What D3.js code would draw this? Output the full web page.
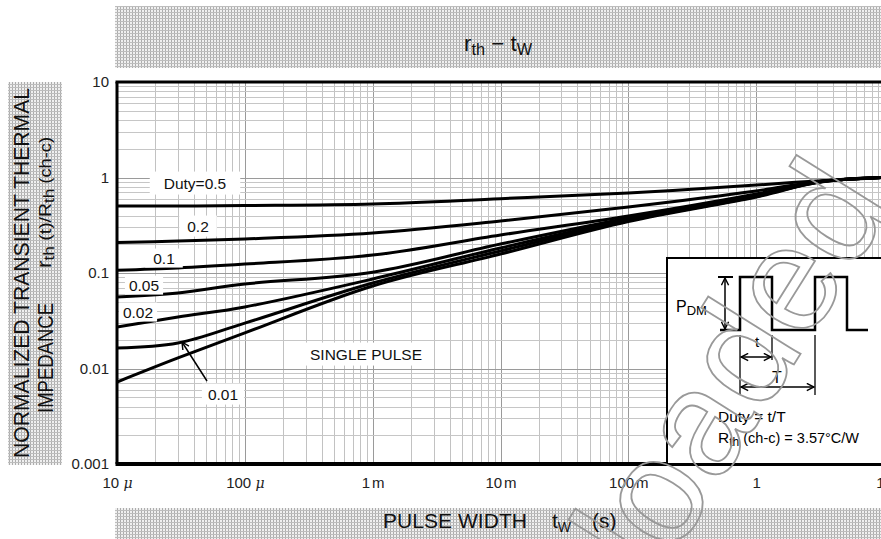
<!DOCTYPE html>
<html>
<head>
<meta charset="utf-8">
<script src="https://cdn.jsdelivr.net/npm/d3@7/dist/d3.min.js"></script>
<style>
  body { margin: 0; background: #fff; overflow: hidden; }
  svg { display: block; font-family: "Liberation Sans", Arial, sans-serif; }
</style>
</head>
<body>
<div id="chart"></div>
<script>
// Define SVG area dimensions
var svgWidth = 881;
var svgHeight = 539;

// Plot area (right side runs past the window edge, like the scan)
var plot = { left: 117, right: 884, top: 82, bottom: 464 };

// pulse width samples (s) and normalized rth for each duty
var pulseWidth = [1e-5, 3e-5, 1e-4, 1e-3, 1e-2, 1e-1, 1, 3, 10];
var duty05 = [0.503, 0.503, 0.509, 0.528, 0.600, 0.688, 0.834, 0.920, 1.0];
var duty02 = [0.209, 0.216, 0.227, 0.262, 0.350, 0.491, 0.722, 0.905, 1.0];
var duty01 = [0.107, 0.113, 0.124, 0.154, 0.250, 0.395, 0.672, 0.900, 1.0];
var duty005 = [0.0561, 0.0618, 0.0767, 0.102, 0.201, 0.377, 0.656, 0.895, 1.0];
var duty002 = [0.0272, 0.0346, 0.0441, 0.0865, 0.183, 0.363, 0.640, 0.890, 1.0];
var duty001 = [0.0164, 0.0185, 0.0299, 0.0785, 0.170, 0.354, 0.632, 0.888, 1.0];
var singlePulse = [0.00722, 0.0129, 0.0236, 0.0731, 0.158, 0.346, 0.625, 0.885, 1.0];

var seriesList = [duty05, duty02, duty01, duty005, duty002, duty001, singlePulse];

// tick labels
var xTickValues = [1e-5, 1e-4, 1e-3, 1e-2, 1e-1, 1, 10];
var xTickNumbers = ["10", "100", "1", "10", "100", "1", "10"];
var xTickUnits = ["\u03bc", "\u03bc", "m", "m", "m", "", ""];
var yTickValues = [0.001, 0.01, 0.1, 1, 10];
var yTickLabels = ["0.001", "0.01", "0.1", "1", "10"];

var svg = d3.select("#chart")
  .append("svg")
  .attr("width", svgWidth)
  .attr("height", svgHeight);

// hatch pattern for the grey title banners
var defs = svg.append("defs");
var pat = defs.append("pattern")
  .attr("id", "hatch")
  .attr("patternUnits", "userSpaceOnUse")
  .attr("width", 3).attr("height", 3);
pat.append("rect").attr("width", 3).attr("height", 3).attr("fill", "#f0f0f0");
pat.append("rect").attr("width", 1).attr("height", 3).attr("fill", "#adadad");
pat.append("rect").attr("width", 3).attr("height", 1).attr("fill", "#bdbdbd");

defs.append("marker")
  .attr("id", "head")
  .attr("viewBox", "0 0 10 10")
  .attr("refX", 9).attr("refY", 5)
  .attr("markerWidth", 9).attr("markerHeight", 9)
  .attr("markerUnits", "userSpaceOnUse")
  .attr("orient", "auto-start-reverse")
  .append("path")
  .attr("d", "M1,1 L9,5 L1,9")
  .attr("fill", "none")
  .attr("stroke", "#000")
  .attr("stroke-width", 1.6);

// scales
var xScale = d3.scaleLog().domain([1e-5, 10]).range([plot.left, plot.right]);
var yScale = d3.scaleLog().domain([0.001, 10]).range([plot.bottom, plot.top]);

// banners
svg.append("rect").attr("x", 115).attr("y", 6).attr("width", 766).attr("height", 62).attr("fill", "url(#hatch)");
svg.append("rect").attr("x", 115).attr("y", 508).attr("width", 766).attr("height", 31).attr("fill", "url(#hatch)");
svg.append("rect").attr("x", 8).attr("y", 82).attr("width", 54).attr("height", 383).attr("fill", "url(#hatch)");

// title  r_th - t_w
var title = svg.append("text")
  .attr("x", 498).attr("y", 51)
  .attr("text-anchor", "middle")
  .attr("font-size", 22)
  .attr("textLength", 68)
  .attr("lengthAdjust", "spacingAndGlyphs")
  .attr("fill", "#111");
title.append("tspan").text("r");
title.append("tspan").attr("font-size", 16).attr("dy", 4).text("th");
title.append("tspan").attr("dy", -4).text(" \u2212 t");
title.append("tspan").attr("font-size", 16).attr("dy", 4).text("W");

// x axis title
var xt = svg.append("text").attr("y", 528).attr("font-size", 21).attr("fill", "#111");
xt.append("tspan").attr("x", 383).attr("textLength", 144).text("PULSE WIDTH");
xt.append("tspan").attr("x", 552).text("t");
xt.append("tspan").attr("font-size", 14).attr("dy", 4).text("W");
xt.append("tspan").attr("x", 592).attr("dy", -4).text("(s)");

// y axis title (two rotated lines)
svg.append("text")
  .attr("transform", "translate(29,273) rotate(-90)")
  .attr("text-anchor", "middle")
  .attr("font-size", 22)
  .attr("textLength", 370)
  .attr("lengthAdjust", "spacingAndGlyphs")
  .attr("fill", "#111")
  .text("NORMALIZED TRANSIENT THERMAL");
svg.append("text")
  .attr("transform", "translate(53,413) rotate(-90)")
  .attr("font-size", 22)
  .attr("textLength", 110)
  .attr("lengthAdjust", "spacingAndGlyphs")
  .attr("fill", "#111")
  .text("IMPEDANCE");
var yl = svg.append("text")
  .attr("transform", "translate(51,268) rotate(-90)")
  .attr("font-size", 20)
  .attr("textLength", 131)
  .attr("lengthAdjust", "spacingAndGlyphs")
  .attr("fill", "#111");
yl.append("tspan").text("r");
yl.append("tspan").attr("font-size", 15).attr("dy", 3).text("th");
yl.append("tspan").attr("font-size", 17).attr("dy", -3).text(" (t)/R");
yl.append("tspan").attr("font-size", 15).attr("dy", 3).text("th");
yl.append("tspan").attr("font-size", 16).attr("dy", -3).text(" (ch-c)");

// clip for the plot area
defs.append("clipPath").attr("id", "plotClip")
  .append("rect")
  .attr("x", plot.left).attr("y", plot.top)
  .attr("width", plot.right - plot.left).attr("height", plot.bottom - plot.top);

var chartGroup = svg.append("g").attr("clip-path", "url(#plotClip)");

// grid
var isDecade = function(v) { return Math.abs(Math.log10(v) - Math.round(Math.log10(v))) < 1e-6; };
chartGroup.append("g").selectAll("line")
  .data(xScale.ticks())
  .enter().append("line")
  .attr("x1", d => Math.round(xScale(d)) + 0.5).attr("x2", d => Math.round(xScale(d)) + 0.5)
  .attr("y1", plot.top).attr("y2", plot.bottom)
  .attr("stroke", d => isDecade(d) ? "#9a9a9a" : "#c2c2c2")
  .attr("stroke-width", 1);
chartGroup.append("g").selectAll("line")
  .data(yScale.ticks())
  .enter().append("line")
  .attr("y1", d => Math.round(yScale(d)) + 0.5).attr("y2", d => Math.round(yScale(d)) + 0.5)
  .attr("x1", plot.left).attr("x2", plot.right)
  .attr("stroke", d => isDecade(d) ? "#9a9a9a" : "#c6c6c6")
  .attr("stroke-width", 1);

// labels with white boxes behind
function boxLabel(txt, cx, cy, padX, padY) {
  var g = svg.append("g");
  var t = g.append("text")
    .attr("x", cx).attr("y", cy).attr("dy", "0.36em")
    .attr("text-anchor", "middle")
    .attr("font-size", 15.5)
    .attr("fill", "#111")
    .text(txt);
  var b = t.node().getBBox();
  g.insert("rect", "text")
    .attr("x", b.x - padX).attr("y", b.y - padY)
    .attr("width", b.width + 2 * padX).attr("height", b.height + 2 * padY)
    .attr("fill", "#fff");
}
boxLabel("Duty=0.5", 195, 183, 14, 3);
boxLabel("0.2", 198, 226, 8, 2);
boxLabel("0.1", 164, 258, 8, 1);
boxLabel("0.05", 144, 285, 4, 1);
boxLabel("0.02", 138, 312, 4, 1);
boxLabel("SINGLE PULSE", 366, 354, 12, 3);
boxLabel("0.01", 223, 394, 6, 2);

// curves
var line = d3.line()
  .x((d, i) => xScale(pulseWidth[i]))
  .y(d => yScale(d))
  .curve(d3.curveCatmullRom.alpha(0.5));

chartGroup.selectAll(".curve")
  .data(seriesList)
  .enter().append("path")
  .attr("class", "curve")
  .attr("d", line)
  .attr("fill", "none")
  .attr("stroke", "#000")
  .attr("stroke-width", 3)
  .attr("stroke-linejoin", "round");

// arrow to the 0.01 curve
svg.append("line")
  .attr("x1", 207).attr("y1", 381).attr("x2", 182).attr("y2", 342)
  .attr("stroke", "#000").attr("stroke-width", 1.5)
  .attr("marker-end", "url(#head)");

// frame
svg.append("line").attr("x1", plot.left - 1.5).attr("x2", svgWidth).attr("y1", plot.top).attr("y2", plot.top)
  .attr("stroke", "#000").attr("stroke-width", 3);
svg.append("line").attr("x1", plot.left).attr("x2", plot.left).attr("y1", plot.top).attr("y2", plot.bottom)
  .attr("stroke", "#000").attr("stroke-width", 3);
svg.append("line").attr("x1", plot.left - 1.5).attr("x2", svgWidth).attr("y1", plot.bottom).attr("y2", plot.bottom)
  .attr("stroke", "#000").attr("stroke-width", 4);

// axes
var bottomAxis = d3.axisBottom(xScale)
  .tickValues(xTickValues)
  .tickSize(0)
  .tickPadding(13)
  .tickFormat("");
var xAxisG = svg.append("g")
  .attr("transform", `translate(0, ${plot.bottom})`)
  .call(bottomAxis);
xAxisG.select(".domain").remove();
xAxisG.selectAll(".tick text").each(function(d, i) {
  var t = d3.select(this).attr("font-size", 15).attr("fill", "#222").attr("font-family", "Liberation Sans, Arial, sans-serif");
  t.append("tspan").text(xTickNumbers[i]);
  if (xTickUnits[i] === "\u03bc") {
    t.append("tspan").text(" ");
    t.append("tspan").attr("font-style", "italic").attr("font-family", "DejaVu Serif, serif").attr("font-size", 14).text("\u03bc");
  } else if (xTickUnits[i]) {
    t.append("tspan").attr("dx", 2).text(xTickUnits[i]);
  }
});

var leftAxis = d3.axisLeft(yScale)
  .tickValues(yTickValues)
  .tickSize(0)
  .tickPadding(8)
  .tickFormat((d, i) => yTickLabels[i]);
var yAxisG = svg.append("g")
  .attr("transform", `translate(${plot.left}, 0)`)
  .call(leftAxis);
yAxisG.select(".domain").remove();
yAxisG.selectAll(".tick text")
  .attr("font-size", 15)
  .attr("fill", "#222")
  .attr("font-family", "Liberation Sans, Arial, sans-serif");

// inset with the pulse definition
var inset = svg.append("g");
inset.append("rect")
  .attr("x", 667).attr("y", 258).attr("width", 240).attr("height", 206)
  .attr("fill", "#fff").attr("stroke", "#000").attr("stroke-width", 2);
inset.append("path")
  .attr("d", "M720,330 H740 V277 H772 V330 H815 V277 H847 V330 H868")
  .attr("fill", "none").attr("stroke", "#000").attr("stroke-width", 2.5);
inset.append("line").attr("x1", 718).attr("x2", 733).attr("y1", 277).attr("y2", 277)
  .attr("stroke", "#000").attr("stroke-width", 2);
inset.append("line").attr("x1", 725).attr("x2", 725).attr("y1", 278).attr("y2", 329)
  .attr("stroke", "#000").attr("stroke-width", 1.5)
  .attr("marker-start", "url(#head)").attr("marker-end", "url(#head)");
[[740, 395], [772, 360], [815, 395]].forEach(function(p) {
  inset.append("line").attr("x1", p[0]).attr("x2", p[0]).attr("y1", 335).attr("y2", p[1])
    .attr("stroke", "#000").attr("stroke-width", 1.3);
});
inset.append("line").attr("x1", 741).attr("x2", 771).attr("y1", 357).attr("y2", 357)
  .attr("stroke", "#000").attr("stroke-width", 1.5)
  .attr("marker-start", "url(#head)").attr("marker-end", "url(#head)");
inset.append("line").attr("x1", 741).attr("x2", 814).attr("y1", 387).attr("y2", 387)
  .attr("stroke", "#000").attr("stroke-width", 1.5)
  .attr("marker-start", "url(#head)").attr("marker-end", "url(#head)");
inset.append("text").attr("x", 757).attr("y", 347).attr("text-anchor", "middle").attr("font-size", 15).text("t");
inset.append("text").attr("x", 777).attr("y", 383).attr("text-anchor", "middle").attr("font-size", 16).text("T");
var pdm = inset.append("text").attr("x", 676).attr("y", 312).attr("font-size", 16);
pdm.append("tspan").text("P");
pdm.append("tspan").attr("font-size", 13).attr("dy", 3).text("DM");
inset.append("text").attr("x", 718).attr("y", 422).attr("font-size", 15.5).text("Duty = t/T");
var rth = inset.append("text").attr("x", 718).attr("y", 443).attr("font-size", 15.5);
rth.append("tspan").text("R");
rth.append("tspan").attr("font-size", 12).attr("dy", 3).text("th");
rth.append("tspan").attr("font-size", 14.5).attr("dy", -3).text(" (ch-c) = 3.57\u00b0C/W");

// scan watermark (outlined letters)
svg.append("text")
  .attr("transform", "translate(894,204) rotate(-58)")
  .attr("text-anchor", "end")
  .attr("fill", "none")
  .attr("stroke", "#999")
  .attr("stroke-width", 1.8)
  .attr("font-size", 150)
  .text("Downloaded");
</script>
</body>
</html>
